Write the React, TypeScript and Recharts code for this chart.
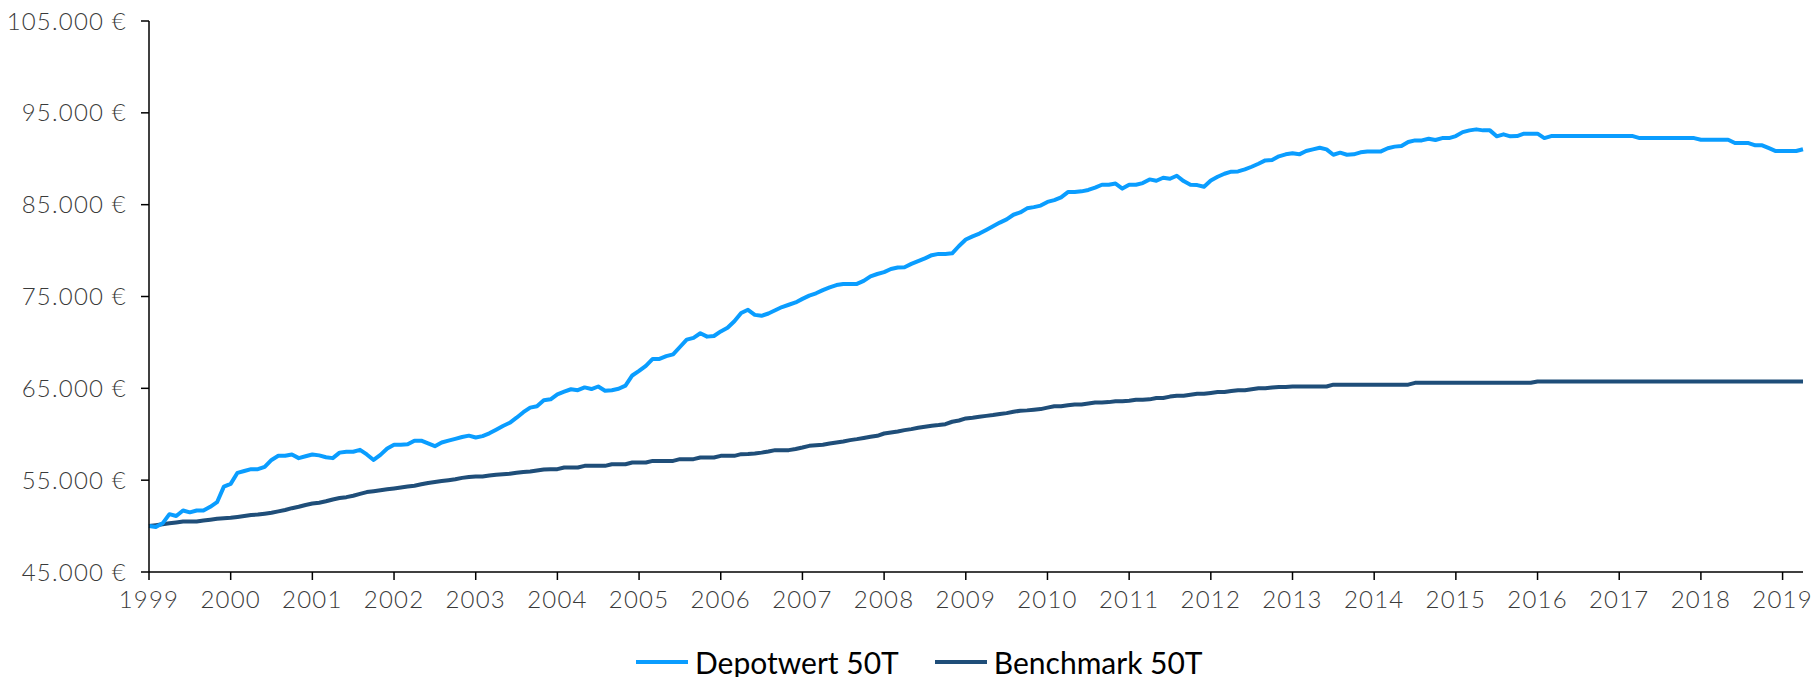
import { LineChart, Line, XAxis, YAxis } from 'recharts';

// Jahres-Ticks auf der x-Achse (jeweils Januar)
const tickYears = [1999, 2000, 2001, 2002, 2003, 2004, 2005, 2006, 2007, 2008, 2009, 2010, 2011, 2012, 2013, 2014, 2015, 2016, 2017, 2018, 2019];
const yTicks = [45000, 55000, 65000, 75000, 85000, 95000, 105000];
const seriesNames = ['Depotwert 50T', 'Benchmark 50T'];
const seriesColors = ['#0A9DFF', '#1F4E79'];

// Monatswerte Jan 1999 - Apr 2019
const depotwert = [
    50000, 49900, 50300, 51300, 51100, 51700, 51500, 51700, 51700, 52100, 52600, 54300, // 1999
    54600, 55800, 56000, 56200, 56200, 56450, 57200, 57650, 57650, 57800, 57400, 57600, // 2000
    57800, 57700, 57500, 57400, 58000, 58100, 58100, 58300, 57800, 57200, 57750, 58450, // 2001
    58850, 58850, 58900, 59300, 59300, 59000, 58700, 59100, 59300, 59500, 59700, 59850, // 2002
    59650, 59800, 60100, 60500, 60900, 61250, 61800, 62400, 62900, 63050, 63700, 63800, // 2003
    64350, 64630, 64900, 64800, 65100, 64920, 65200, 64740, 64800, 64950, 65300, 66400, // 2004
    66900, 67450, 68200, 68200, 68500, 68700, 69500, 70300, 70500, 71000, 70630, 70700, // 2005
    71200, 71600, 72300, 73200, 73550, 73000, 72900, 73150, 73500, 73850, 74100, 74350, // 2006
    74740, 75100, 75350, 75700, 76000, 76250, 76370, 76370, 76370, 76700, 77200, 77450, // 2007
    77650, 78000, 78150, 78190, 78550, 78850, 79150, 79500, 79640, 79640, 79700, 80500, // 2008
    81200, 81550, 81850, 82250, 82650, 83050, 83400, 83900, 84150, 84600, 84730, 84900, // 2009
    85300, 85500, 85800, 86370, 86370, 86450, 86600, 86850, 87170, 87170, 87300, 86750, // 2010
    87170, 87170, 87350, 87750, 87600, 87930, 87820, 88150, 87570, 87170, 87130, 86950, // 2011
    87640, 88040, 88370, 88590, 88620, 88840, 89130, 89460, 89820, 89860, 90260, 90480, // 2012
    90590, 90480, 90840, 91020, 91200, 91020, 90440, 90660, 90440, 90480, 90700, 90800, // 2013
    90800, 90800, 91150, 91320, 91380, 91820, 92000, 92000, 92180, 92040, 92250, 92250, // 2014
    92470, 92900, 93090, 93200, 93090, 93090, 92440, 92660, 92440, 92470, 92730, 92730, // 2015
    92730, 92250, 92470, 92470, 92470, 92470, 92470, 92470, 92470, 92470, 92470, 92470, // 2016
    92470, 92470, 92470, 92250, 92250, 92250, 92250, 92250, 92250, 92250, 92250, 92250, // 2017
    92070, 92070, 92070, 92070, 92070, 91710, 91710, 91710, 91460, 91460, 91150, 90840, // 2018
    90840, 90840, 90840, 91030, // 2019
];

const benchmark = [
    50000, 50100, 50200, 50300, 50400, 50500, 50500, 50500, 50600, 50700, 50800, 50850, // 1999
    50900, 51000, 51100, 51200, 51250, 51350, 51450, 51600, 51750, 51950, 52100, 52300, // 2000
    52450, 52550, 52700, 52900, 53050, 53150, 53300, 53500, 53700, 53800, 53900, 54000, // 2001
    54100, 54200, 54300, 54400, 54550, 54700, 54800, 54900, 55000, 55100, 55250, 55350, // 2002
    55400, 55400, 55500, 55600, 55650, 55700, 55800, 55900, 55950, 56050, 56150, 56200, // 2003
    56200, 56380, 56380, 56380, 56560, 56560, 56560, 56560, 56740, 56740, 56740, 56920, // 2004
    56920, 56920, 57100, 57100, 57100, 57100, 57290, 57290, 57290, 57470, 57470, 57470, // 2005
    57650, 57650, 57650, 57830, 57850, 57900, 58000, 58120, 58270, 58270, 58270, 58400, // 2006
    58560, 58740, 58800, 58850, 58990, 59100, 59210, 59360, 59470, 59600, 59720, 59830, // 2007
    60080, 60190, 60300, 60450, 60560, 60700, 60810, 60920, 61000, 61100, 61360, 61500, // 2008
    61720, 61800, 61900, 62000, 62090, 62200, 62300, 62450, 62560, 62600, 62680, 62740, // 2009
    62900, 63050, 63050, 63150, 63250, 63250, 63350, 63450, 63450, 63500, 63600, 63600, // 2010
    63650, 63750, 63750, 63800, 63950, 63950, 64100, 64200, 64200, 64300, 64400, 64400, // 2011
    64500, 64600, 64600, 64700, 64800, 64800, 64900, 65000, 65000, 65100, 65150, 65150, // 2012
    65200, 65200, 65200, 65200, 65200, 65200, 65400, 65400, 65400, 65400, 65400, 65400, // 2013
    65400, 65400, 65400, 65400, 65400, 65400, 65600, 65600, 65600, 65600, 65600, 65600, // 2014
    65600, 65600, 65600, 65600, 65600, 65600, 65600, 65600, 65600, 65600, 65600, 65600, // 2015
    65750, 65750, 65750, 65750, 65750, 65750, 65750, 65750, 65750, 65750, 65750, 65750, // 2016
    65750, 65750, 65750, 65750, 65750, 65750, 65750, 65750, 65750, 65750, 65750, 65750, // 2017
    65750, 65750, 65750, 65750, 65750, 65750, 65750, 65750, 65750, 65750, 65750, 65750, // 2018
    65750, 65750, 65750, 65750, // 2019
];

const data = depotwert.map((v, i) => ({ m: i, depot: v, bench: benchmark[i] }));

const formatEuro = (v: number) => `${String(v).replace(/\B(?=(\d{3})+(?!\d))/g, '.')} €`;

const tickStyle = { fill: '#3a3a3a', fontSize: 24, fontFamily: 'Lato', fontWeight: 300, letterSpacing: 1.2 };

export default function App() {
    return (
        <div style={{ position: 'relative', width: 1820, height: 677, background: '#fff', fontFamily: 'Lato' }}>
            <style>{'body{margin:0}'}</style>
            <LineChart width={1820} height={677} data={data} margin={{ top: 21, right: 17, left: 0, bottom: 55 }}>
                <XAxis
                    dataKey="m"
                    type="number"
                    domain={[0, depotwert.length - 1]}
                    ticks={tickYears.map((y) => (y - 1999) * 12)}
                    tickFormatter={(v) => String(1999 + v / 12)}
                    axisLine={{ stroke: '#000', strokeWidth: 1.5 }}
                    tickLine={{ stroke: '#000', strokeWidth: 1.5 }}
                    tickSize={8}
                    tickMargin={11}
                    height={50}
                    tick={tickStyle}
                    interval={0}
                />
                <YAxis
                    domain={[45000, 105000]}
                    ticks={yTicks}
                    tickFormatter={formatEuro}
                    axisLine={{ stroke: '#000', strokeWidth: 1.5 }}
                    tickLine={{ stroke: '#000', strokeWidth: 1.5 }}
                    tickSize={8}
                    tickMargin={14}
                    width={149}
                    tick={tickStyle}
                    interval={0}
                />
                <Line type="linear" dataKey="bench" name={seriesNames[1]} stroke={seriesColors[1]} strokeWidth={4} dot={false} isAnimationActive={false} strokeLinejoin="round" />
                <Line type="linear" dataKey="depot" name={seriesNames[0]} stroke={seriesColors[0]} strokeWidth={4} dot={false} isAnimationActive={false} strokeLinejoin="round" />
            </LineChart>
            <div style={{ position: 'absolute', left: 636, top: 644, display: 'flex', alignItems: 'center', gap: 36 }}>
                {seriesNames.map((name, i) => (
                    <div key={name} style={{ display: 'flex', alignItems: 'center', gap: 7 }}>
                        <div style={{ width: 52, height: 4, background: seriesColors[i] }} />
                        <span style={{ fontSize: 30, color: '#000', lineHeight: '36px' }}>{name}</span>
                    </div>
                ))}
            </div>
        </div>
    );
}
